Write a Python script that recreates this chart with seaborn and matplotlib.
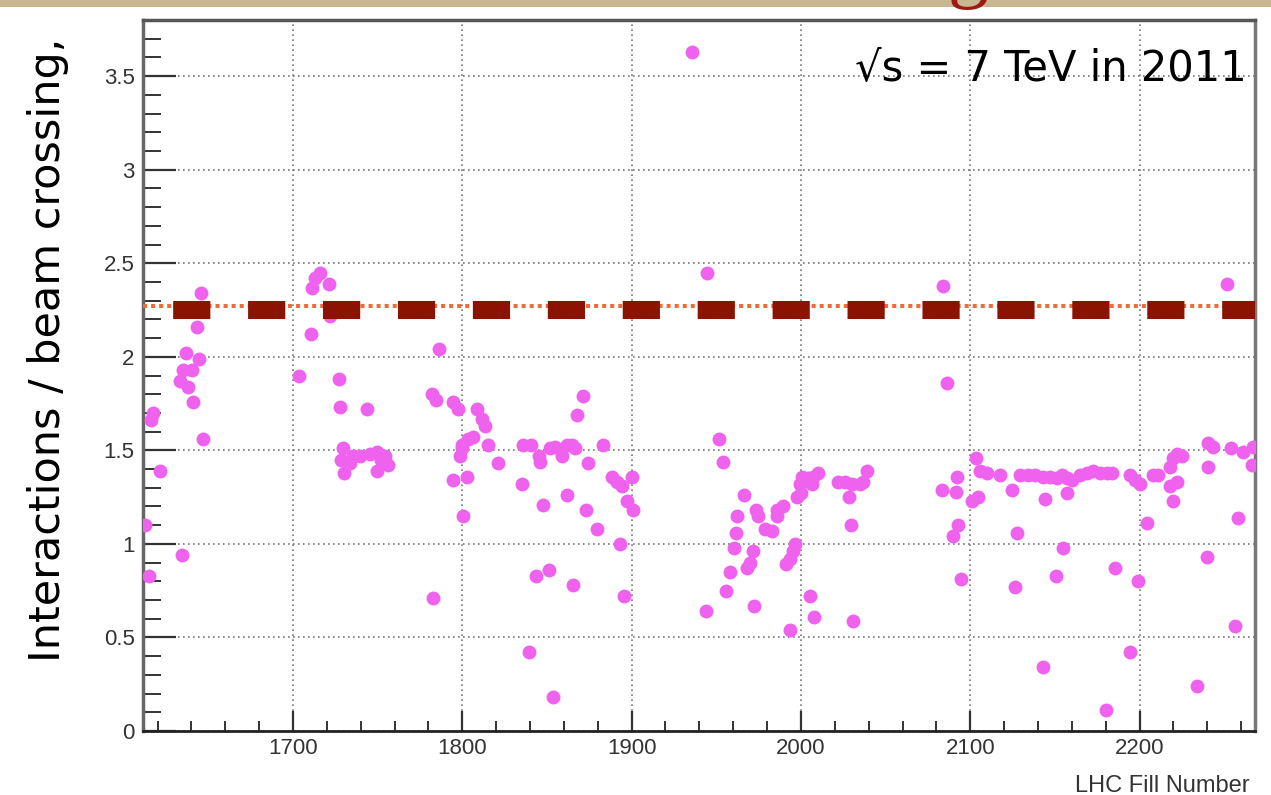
import matplotlib
matplotlib.use("Agg")
import matplotlib.pyplot as plt
import seaborn as sns
import pandas as pd
from matplotlib.ticker import MultipleLocator, FuncFormatter
from matplotlib.patches import Rectangle

# LHC fill number vs mean interactions per beam crossing (2011)
fill_number = [
    1612.6, 1615.0, 1616.1, 1617.1, 1621.4, 1633.3, 1634.3, 1635.2, 1636.8, 1638.2,
    1640.1, 1641.1, 1643.5, 1644.7, 1645.7, 1646.7, 1703.7, 1710.5, 1711.0, 1713.0,
    1716.0, 1721.0, 1722.0, 1727.0, 1727.8, 1728.3, 1729.4, 1730.1, 1731.7, 1733.7,
    1735.6, 1739.6, 1743.5, 1745.5, 1749.4, 1749.8, 1751.8, 1754.3, 1756.3, 1781.9,
    1782.9, 1784.5, 1786.4, 1794.7, 1794.7, 1797.6, 1798.6, 1799.6, 1800.0, 1800.6,
    1802.6, 1803.6, 1806.5, 1808.5, 1811.5, 1813.4, 1815.4, 1821.3, 1835.1, 1836.0,
    1839.4, 1840.4, 1843.8, 1845.5, 1845.9, 1847.9, 1851.4, 1851.8, 1853.4, 1854.8,
    1858.7, 1861.7, 1862.1, 1864.6, 1865.6, 1866.6, 1867.6, 1871.1, 1873.0, 1874.4,
    1879.7, 1883.3, 1888.2, 1891.2, 1893.1, 1894.1, 1895.5, 1897.1, 1900.1, 1901.0,
    1935.9, 1943.9, 1944.4, 1951.8, 1954.2, 1955.8, 1958.1, 1960.5, 1961.7, 1962.4,
    1966.4, 1968.0, 1969.9, 1971.5, 1972.5, 1973.5, 1974.9, 1978.8, 1982.8, 1985.7,
    1985.7, 1989.6, 1991.2, 1993.6, 1993.6, 1995.2, 1996.5, 1997.5, 1999.4, 1999.9,
    2000.5, 2004.4, 2005.4, 2006.4, 2007.3, 2007.7, 2010.3, 2022.1, 2026.0, 2028.6,
    2029.4, 2030.0, 2030.6, 2034.9, 2036.9, 2039.2, 2083.2, 2084.2, 2086.1, 2090.0,
    2091.6, 2092.4, 2093.0, 2094.4, 2100.9, 2103.4, 2104.8, 2105.8, 2109.7, 2117.6,
    2124.5, 2126.5, 2127.5, 2129.4, 2134.3, 2138.3, 2142.8, 2143.2, 2144.2, 2147.2,
    2150.7, 2151.1, 2154.1, 2155.0, 2157.1, 2157.4, 2160.0, 2164.9, 2168.9, 2172.8,
    2176.7, 2180.3, 2180.7, 2183.6, 2185.8, 2194.5, 2194.5, 2197.4, 2199.3, 2200.4,
    2204.3, 2208.2, 2211.2, 2217.9, 2217.9, 2219.9, 2219.9, 2221.9, 2221.9, 2224.8,
    2234.2, 2239.7, 2240.6, 2240.6, 2243.6, 2251.6, 2253.9, 2256.4, 2258.4, 2261.3,
    2266.2, 2267.2,
]
interactions = [
    1.10, 0.83, 1.66, 1.70, 1.39, 1.87, 0.94, 1.93, 2.02, 1.84,
    1.93, 1.76, 2.16, 1.99, 2.34, 1.56, 1.90, 2.12, 2.37, 2.42,
    2.45, 2.39, 2.22, 1.88, 1.73, 1.45, 1.51, 1.38, 1.44, 1.43,
    1.47, 1.47, 1.72, 1.48, 1.49, 1.39, 1.45, 1.47, 1.42, 1.80,
    0.71, 1.77, 2.04, 1.76, 1.34, 1.72, 1.47, 1.53, 1.51, 1.15,
    1.36, 1.56, 1.57, 1.72, 1.67, 1.63, 1.53, 1.43, 1.32, 1.53,
    0.42, 1.53, 0.83, 1.47, 1.44, 1.21, 0.86, 1.51, 0.18, 1.52,
    1.47, 1.53, 1.26, 1.53, 0.78, 1.51, 1.69, 1.79, 1.18, 1.43,
    1.08, 1.53, 1.36, 1.33, 1.00, 1.31, 0.72, 1.23, 1.36, 1.18,
    3.63, 0.64, 2.45, 1.56, 1.44, 0.75, 0.85, 0.98, 1.06, 1.15,
    1.26, 0.87, 0.90, 0.96, 0.67, 1.18, 1.15, 1.08, 1.07, 1.18,
    1.15, 1.20, 0.89, 0.92, 0.54, 0.96, 1.00, 1.25, 1.32, 1.27,
    1.36, 1.35, 0.72, 1.32, 1.36, 0.61, 1.38, 1.33, 1.33, 1.25,
    1.10, 1.32, 0.59, 1.32, 1.33, 1.39, 1.29, 2.38, 1.86, 1.04,
    1.28, 1.36, 1.10, 0.81, 1.23, 1.46, 1.25, 1.39, 1.38, 1.37,
    1.29, 0.77, 1.06, 1.37, 1.37, 1.37, 0.34, 1.36, 1.24, 1.36,
    0.83, 1.35, 1.37, 0.98, 1.35, 1.27, 1.34, 1.37, 1.38, 1.39,
    1.38, 0.11, 1.38, 1.38, 0.87, 1.37, 0.42, 1.34, 0.80, 1.32,
    1.11, 1.37, 1.37, 1.41, 1.31, 1.46, 1.23, 1.48, 1.33, 1.47,
    0.24, 0.93, 1.54, 1.41, 1.52, 2.39, 1.51, 0.56, 1.14, 1.49,
    1.42, 1.52,
]
design_level = 2.27   # dotted orange line
nominal_level = 2.25  # thick dark red dashes

df = pd.DataFrame({"fill": fill_number, "mu": interactions})

sns.set_style("ticks")
plt.rcParams["font.family"] = ["Liberation Sans", "DejaVu Sans"]

W, H = 1271, 795
fig = plt.figure(figsize=(W / 100, H / 100), dpi=100)
ax = fig.add_axes([143 / W, 64 / H, 1112 / W, 711 / H])

sns.scatterplot(data=df, x="fill", y="mu", ax=ax, s=100, color="#EE62EE",
                linewidth=0, zorder=3)

ax.axhline(design_level, color="#F26A3A", lw=2.9, linestyle=(0, (1.0, 1.0)), zorder=4)
ax.axhline(nominal_level, color="#8C1300", lw=13,
           linestyle=(2.48, (2.06, 2.09)), zorder=5)

ax.set_xlim(1611.4, 2268.2)
ax.set_ylim(0, 3.8)
ax.xaxis.set_major_locator(MultipleLocator(100))
ax.xaxis.set_minor_locator(MultipleLocator(20))
ax.yaxis.set_major_locator(MultipleLocator(0.5))
ax.yaxis.set_minor_locator(MultipleLocator(0.1))
ax.yaxis.set_major_formatter(FuncFormatter(lambda v, p: "%g" % v))
ax.xaxis.set_major_formatter(FuncFormatter(lambda v, p: "%d" % v))

ax.tick_params(axis="x", which="major", direction="in", length=14.4, width=1.6,
               color="#333333", labelsize=16, labelcolor="#333333", pad=5)
ax.tick_params(axis="x", which="minor", direction="in", length=7.2, width=1.4,
               color="#333333")
ax.tick_params(axis="y", which="major", direction="in", length=24, width=1.6,
               color="#333333", labelsize=16, labelcolor="#333333", pad=6)
ax.tick_params(axis="y", which="minor", direction="in", length=13, width=1.4,
               color="#333333")

ax.grid(which="major", color="#777777", lw=1.2, linestyle=(0, (1, 2)))
ax.set_axisbelow(True)

for side, c, w in [("top", "#555555", 2.5), ("bottom", "#222222", 2.0),
                   ("left", "#666666", 2.5), ("right", "#777777", 2.5)]:
    ax.spines[side].set_visible(True)
    ax.spines[side].set_color(c)
    ax.spines[side].set_linewidth(w)

ax.set_xlabel("")
ax.set_ylabel("")

fig.text(48 / W, (H - 662) / H, "Interactions / beam crossing,", rotation=90,
         ha="center", va="bottom", fontsize=31, family="DejaVu Sans", color="black")
fig.text(1250 / W, 3 / H, "LHC Fill Number", ha="right", va="baseline",
         fontsize=17, color="#333333")
ax.text(1247 / W, (H - 80) / H, "\u221As = 7 TeV in 2011", transform=fig.transFigure,
        ha="right", va="baseline", fontsize=30, family="DejaVu Sans", color="black",
        zorder=6)

# slide background strip and a bit of the title above the chart
fig.patches.append(Rectangle((0, (H - 7) / H), 1, 7 / H, transform=fig.transFigure,
                             facecolor="#C8B790", edgecolor="none", zorder=10))
fig.text(968 / W, (H + 8) / H, "g", ha="center", va="baseline", fontsize=59,
         family="Liberation Serif", color="#9E1A12", zorder=11)

fig.savefig("out.png", dpi=100)
